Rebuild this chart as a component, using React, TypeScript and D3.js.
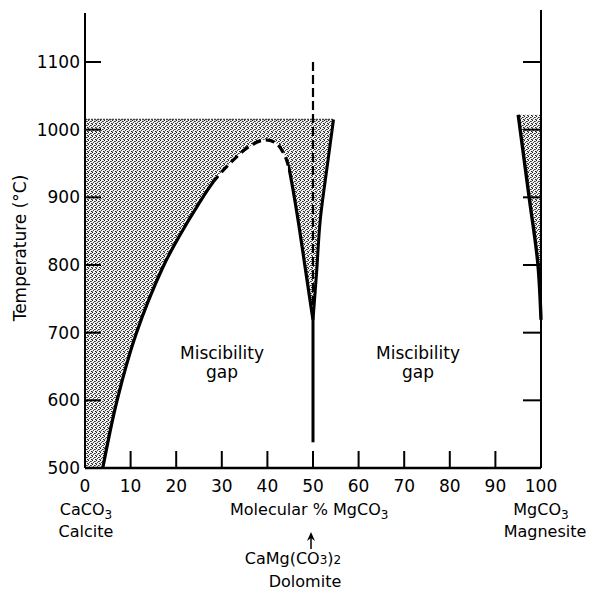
import React from "react";
import * as d3 from "d3";

// chart data (mol % MgCO3, temperature °C)
const xTicks = [0, 10, 20, 30, 40, 50, 60, 70, 80, 90, 100];
const yTicks = [500, 600, 700, 800, 900, 1000, 1100];
const shadeTop = 1015;
const magnesiteTop = 1022;

// calcite-side solvus running over the crest into the dolomite field
const solvus: [number, number][] = [
  [3.9, 500], [7.0, 599], [11.2, 698], [17.1, 797], [20.8, 844], [24.8, 889],
  [28.5, 926], [32.5, 955], [36.2, 976], [39.5, 985], [41.9, 980], [43.4, 967],
  [44.5, 949], [45.9, 900], [47.1, 850], [48.2, 800], [49.3, 750], [50, 719],
];
const dashedFrom = 28.5; // part of the solvus drawn dashed (uncertain)
const dashedTo = 44.5;
const dolomiteRight: [number, number][] = [
  [54.5, 1015], [53.2, 950], [51.6, 867], [50.8, 790], [50, 719],
];
const dolomiteStem: [number, number][] = [[50, 719], [50, 538]];
const dolomiteDashed: [number, number][] = [[50, 1100], [50, 719]];
const magnesiteLine: [number, number][] = [
  [95, 1022], [97.4, 900], [99.3, 803], [100, 719],
];

const W = 589;
const H = 592;
const font = "DejaVu Sans, Verdana, sans-serif";

const x = d3.scaleLinear().domain([0, 100]).range([85, 541]);
const y = d3.scaleLinear().domain([500, 1100]).range([468, 62]);

const line = d3
  .line<[number, number]>()
  .x((d) => x(d[0]))
  .y((d) => y(d[1]))
  .curve(d3.curveCatmullRom);

const straight = d3
  .line<[number, number]>()
  .x((d) => x(d[0]))
  .y((d) => y(d[1]));

export default function App() {
  const solvusPath = line(solvus) || "";
  const shadePath =
    `M${x(0)},${y(500)}L${x(0)},${y(shadeTop)}` +
    (line(dolomiteRight) || "").replace(/^M/, "L") +
    (line([...solvus].reverse() as [number, number][]) || "").replace(/^M/, "L") +
    "Z";

  const magShade =
    `M${x(100)},${y(magnesiteTop)}` +
    (line([...magnesiteLine].reverse() as [number, number][]) || "").replace(/^M/, "L") +
    "Z";

  return (
    <svg
      width={W}
      height={H}
      style={{ position: "absolute", left: 0, top: 0, background: "#fff" }}
      fontFamily={font}
    >
      <defs>
        <pattern id="stipple" width={4} height={4} patternUnits="userSpaceOnUse">
          <rect width={4} height={4} fill="#f2f2f2" />
          <rect x={0} y={0} width={1} height={1} fill="#222" />
          <rect x={2} y={1} width={1} height={1} fill="#333" />
          <rect x={1} y={2} width={1} height={1} fill="#444" />
          <rect x={3} y={3} width={1} height={1} fill="#222" />
          <rect x={3} y={1} width={1} height={1} fill="#666" />
          <rect x={0} y={3} width={1} height={1} fill="#777" />
        </pattern>
        <clipPath id="solidPart">
          <rect x={0} y={0} width={x(dashedFrom)} height={H} />
          <rect x={x(dashedTo)} y={0} width={W - x(dashedTo)} height={H} />
        </clipPath>
        <clipPath id="dashedPart">
          <rect x={x(dashedFrom)} y={0} width={x(dashedTo) - x(dashedFrom)} height={H} />
        </clipPath>
      </defs>

      {/* shaded fields */}
      <path d={shadePath} fill="url(#stipple)" />
      <path d={magShade} fill="url(#stipple)" />
      <line
        x1={x(0)}
        x2={x(54.5)}
        y1={y(shadeTop)}
        y2={y(shadeTop)}
        stroke="#444"
        strokeWidth={1.5}
        strokeDasharray="2 1"
      />

      {/* axes frame */}
      <line x1={x(0)} x2={x(0)} y1={13} y2={y(500)} stroke="#000" strokeWidth={2} />
      <line x1={x(100)} x2={x(100)} y1={10} y2={y(500)} stroke="#000" strokeWidth={2} />
      <line x1={x(0)} x2={x(100)} y1={y(500)} y2={y(500)} stroke="#000" strokeWidth={2.5} />

      {/* y ticks */}
      {yTicks.filter((t) => t > 500).map((t) => (
        <g key={"yt" + t}>
          <line x1={x(0)} x2={x(0) + 16} y1={y(t)} y2={y(t)} stroke="#000" strokeWidth={2} />
          <line x1={x(100) - 18} x2={x(100)} y1={y(t)} y2={y(t)} stroke="#000" strokeWidth={2} />
        </g>
      ))}
      {yTicks.map((t) => (
        <text key={"yl" + t} x={80} y={y(t)} dy="0.35em" textAnchor="end" fontSize={17}>
          {t}
        </text>
      ))}

      {/* x ticks */}
      {xTicks.filter((t) => t > 0 && t < 100).map((t) => (
        <line key={"xt" + t} x1={x(t)} x2={x(t)} y1={y(500)} y2={y(500) - 17} stroke="#000" strokeWidth={2} />
      ))}
      {xTicks.map((t) => (
        <text key={"xl" + t} x={x(t)} y={492} textAnchor="middle" fontSize={17}>
          {t}
        </text>
      ))}

      {/* phase boundaries */}
      <path d={solvusPath} fill="none" stroke="#000" strokeWidth={3.2} clipPath="url(#solidPart)" />
      <path d={solvusPath} fill="none" stroke="#000" strokeWidth={3.2} strokeDasharray="9 5" clipPath="url(#dashedPart)" />
      <path d={line(dolomiteRight) || ""} fill="none" stroke="#000" strokeWidth={3} />
      <path d={straight(dolomiteStem) || ""} fill="none" stroke="#000" strokeWidth={3} />
      <path d={straight(dolomiteDashed) || ""} fill="none" stroke="#000" strokeWidth={2.2} strokeDasharray="9 4" />
      <path d={line(magnesiteLine) || ""} fill="none" stroke="#000" strokeWidth={3.4} />

      {/* region labels */}
      <text x={222} y={359} textAnchor="middle" fontSize={17}>Miscibility</text>
      <text x={222} y={378} textAnchor="middle" fontSize={17}>gap</text>
      <text x={418} y={359} textAnchor="middle" fontSize={17}>Miscibility</text>
      <text x={418} y={378} textAnchor="middle" fontSize={17}>gap</text>

      {/* axis titles */}
      <text
        transform={`translate(26,248) rotate(-90)`}
        textAnchor="middle"
        fontSize={17}
      >
        Temperature (°C)
      </text>

      <text x={86} y={515} textAnchor="middle" fontSize={16}>
        CaCO<tspan fontSize={12} dy={4}>3</tspan>
      </text>
      <text x={86} y={537} textAnchor="middle" fontSize={16}>Calcite</text>

      <text x={230} y={515} fontSize={16}>
        Molecular % MgCO<tspan fontSize={12} dy={4}>3</tspan>
      </text>

      <text x={541} y={515} textAnchor="middle" fontSize={16}>
        MgCO<tspan fontSize={12} dy={4}>3</tspan>
      </text>
      <text x={545} y={537} textAnchor="middle" fontSize={16}>Magnesite</text>

      {/* dolomite arrow */}
      <line x1={x(50) - 2} x2={x(50) - 2} y1={549} y2={536} stroke="#000" strokeWidth={1.5} />
      <path
        d={`M${x(50) - 2},${532}L${x(50) - 6},${541}L${x(50) - 2},${538}L${x(50) + 2},${541}Z`}
        fill="#000"
      />
      <text x={293} y={564} textAnchor="middle" fontSize={16}>
        CaMg(CO<tspan fontSize={12}>3</tspan>)<tspan fontSize={12}>2</tspan>
      </text>
      <text x={305} y={587} textAnchor="middle" fontSize={16}>Dolomite</text>
    </svg>
  );
}
